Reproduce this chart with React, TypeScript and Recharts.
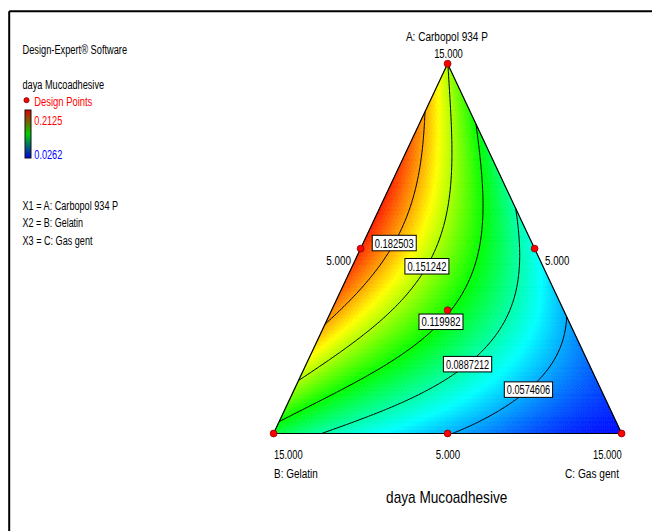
import React from "react";
import { ScatterChart, Scatter, XAxis, YAxis, Customized } from "recharts";

const RESPONSE_NAME = "daya Mucoadhesive";
const COMPONENT_NAMES = ["A: Carbopol 934 P", "B: Gelatin", "C: Gas gent"];
const VERTEX_TICKS = ["15.000", "15.000", "15.000"];
const EDGE_TICKS = ["5.000", "5.000", "5.000"]; // A-B, A-C, B-C edges
const DESIGN_POINTS: number[][] = [
  [1, 0, 0], [0, 1, 0], [0, 0, 1],
  [0.5, 0.5, 0], [0.5, 0, 0.5], [0, 0.5, 0.5],
  [1 / 3, 1 / 3, 1 / 3],
];
const RESPONSE_RANGE = [0.0262, 0.2125];
const CONTOUR_LEVELS = [0.182503, 0.151242, 0.119982, 0.0887212, 0.0574606];

// Scheffe quartic mixture model for the response, terms in the order of `basis` below
const MODEL_COEFS = [
  0.15165, 0.10943, 0.02801,
  0.29621, -0.05317, -0.04104,
  0.0203, -0.03208, -0.01617,
  0.01878, -0.02075, -0.05131,
  0.43632, -0.1929, -0.00604,
];

const W = 652;
const H = 523;
const MARGIN = { top: 55.7, right: 38.4, bottom: 97.5, left: 265.6 };
const PW = W - MARGIN.left - MARGIN.right;
const PH = H - MARGIN.top - MARGIN.bottom;
const FONT = "'Liberation Sans Narrow', 'Liberation Sans', Arial, sans-serif";
const GRID = 96;

const basis = (a: number, b: number, c: number) => [
  a, b, c, a * b, a * c, b * c,
  a * b * (a - b), a * c * (a - c), b * c * (b - c),
  a * b * (a - b) ** 2, a * c * (a - c) ** 2, b * c * (b - c) ** 2,
  a * a * b * c, a * b * b * c, a * b * c * c,
];

const response = (a: number, b: number, c: number) =>
  basis(a, b, c).reduce((s, t, i) => s + t * MODEL_COEFS[i], 0);

// ternary composition -> plot coordinates (apex A at top, B bottom-left, C bottom-right)
const toXY = (a: number, _b: number, c: number) => ({ x: c + a / 2, y: a });

const STOPS = [[0, 0, 255], [0, 255, 255], [0, 255, 0], [255, 255, 0], [255, 0, 0]];
function colorOf(v: number) {
  let t = (v - RESPONSE_RANGE[0]) / (RESPONSE_RANGE[1] - RESPONSE_RANGE[0]);
  t = Math.max(0, Math.min(1, t));
  const s = t * 4;
  const k = Math.min(3, Math.floor(s));
  const u = s - k;
  const c = STOPS[k].map((q, i) => Math.round(q + (STOPS[k + 1][i] - q) * u));
  return `rgb(${c[0]},${c[1]},${c[2]})`;
}

// triangular mesh over the simplex: node (i, j) has A = i/n, C = j/n
function buildMesh(n: number) {
  const vals: number[][] = [];
  for (let i = 0; i <= n; i++) {
    vals.push([]);
    for (let j = 0; j <= n - i; j++) vals[i].push(response(i / n, 1 - i / n - j / n, j / n));
  }
  const tris: number[][][] = [];
  for (let i = 0; i < n; i++) {
    for (let j = 0; j < n - i; j++) {
      tris.push([[i, j], [i, j + 1], [i + 1, j]]);
      if (j < n - i - 1) tris.push([[i, j + 1], [i + 1, j + 1], [i + 1, j]]);
    }
  }
  return { vals, tris };
}

const MESH = buildMesh(GRID);
const gp = (i: number, j: number) => ({ x: j / GRID + i / (2 * GRID), y: i / GRID });

const fieldCells = MESH.tris.map((t) => {
  const ps = t.map(([i, j]) => gp(i, j));
  const cx = (ps[0].x + ps[1].x + ps[2].x) / 3;
  const cy = (ps[0].y + ps[1].y + ps[2].y) / 3;
  const a = cy;
  const c = cx - a / 2;
  return { x: cx, y: cy, off: ps.map((p) => [p.x - cx, p.y - cy]), fill: colorOf(response(a, 1 - a - c, c)) };
});

// marching triangles, then chain the segments into polylines
function contourPaths(level: number) {
  const { vals, tris } = MESH;
  const pts = new Map<string, { x: number; y: number }>();
  const segs: string[][] = [];
  for (const t of tris) {
    const hits: string[] = [];
    for (let e = 0; e < 3; e++) {
      let p = t[e];
      let q = t[(e + 1) % 3];
      if (p[0] > q[0] || (p[0] === q[0] && p[1] > q[1])) [p, q] = [q, p];
      const fp = vals[p[0]][p[1]] - level;
      const fq = vals[q[0]][q[1]] - level;
      if (fp < 0 !== fq < 0) {
        const key = `${p[0]},${p[1]}|${q[0]},${q[1]}`;
        if (!pts.has(key)) {
          const u = fp / (fp - fq);
          const A = gp(p[0], p[1]);
          const B = gp(q[0], q[1]);
          pts.set(key, { x: A.x + (B.x - A.x) * u, y: A.y + (B.y - A.y) * u });
        }
        hits.push(key);
      }
    }
    if (hits.length === 2) segs.push(hits);
  }
  const adj = new Map<string, number[]>();
  segs.forEach((s, k) => s.forEach((key) => adj.set(key, [...(adj.get(key) || []), k])));
  const used = new Array(segs.length).fill(false);
  const lines: { x: number; y: number }[][] = [];
  const walk = (startKey: string) => {
    const line = [pts.get(startKey)!];
    let key = startKey;
    for (;;) {
      const next = (adj.get(key) || []).find((k) => !used[k]);
      if (next === undefined) break;
      used[next] = true;
      key = segs[next][0] === key ? segs[next][1] : segs[next][0];
      line.push(pts.get(key)!);
    }
    if (line.length > 1) lines.push(line);
  };
  for (const [key, list] of adj) if (list.length === 1 && !used[list[0]]) walk(key);
  segs.forEach((s, k) => { if (!used[k]) walk(s[0]); });
  return lines;
}

const CONTOURS = CONTOUR_LEVELS.map((lv) => ({ level: lv, lines: contourPaths(lv) }));

// compositions near which each contour value tag sits (snapped onto its line)
const TAG_SPOTS = [
  [0.515, 0.393, 0.092], [0.457, 0.334, 0.209], [0.307, 0.369, 0.324],
  [0.199, 0.351, 0.45], [0.132, 0.209, 0.659],
];

const contourTags = CONTOURS.map((ct, k) => {
  const target = toXY(TAG_SPOTS[k][0], TAG_SPOTS[k][1], TAG_SPOTS[k][2]);
  let best = { x: target.x, y: target.y };
  let bd = Infinity;
  ct.lines.forEach((ln) => ln.forEach((p) => {
    const d = ((p.x - target.x) * PW) ** 2 + ((p.y - target.y) * PH) ** 2;
    if (d < bd) { bd = d; best = p; }
  }));
  return { x: best.x, y: best.y, text: String(ct.level) };
});

const designData = DESIGN_POINTS.map(([a, b, c]) => toXY(a, b, c));

// text placed around the vertices and edge midpoints: [text, dx, dy, anchor, width]
const TICK_LAYOUT = [
  { at: [1, 0, 0], lines: [[VERTEX_TICKS[0], 0.9, -5.7, "middle", 28.7], [COMPONENT_NAMES[0], -0.7, -22.7, "middle", 82]] },
  { at: [0, 1, 0], lines: [[VERTEX_TICKS[1], 0.4, 25.5, "start", 28.7], [COMPONENT_NAMES[1], 0.4, 44.5, "start", 43.7]] },
  { at: [0, 0, 1], lines: [[VERTEX_TICKS[2], 0.1, 25.5, "end", 28.7], [COMPONENT_NAMES[2], -2.6, 44, "end", 54]] },
  { at: [0.5, 0.5, 0], lines: [[EDGE_TICKS[0], -9.6, 16, "end", 24.7]] },
  { at: [0.5, 0, 0.5], lines: [[EDGE_TICKS[1], 10.5, 16, "start", 24.3]] },
  { at: [0, 0.5, 0.5], lines: [[EDGE_TICKS[2], 0.4, 25.5, "middle", 24.3]] },
];
const tickData = TICK_LAYOUT.map((t) => ({ ...toXY(t.at[0], t.at[1], t.at[2]), lines: t.lines }));

const triangleData = [toXY(1, 0, 0), toXY(0, 0, 1), toXY(0, 1, 0), toXY(1, 0, 0)];

const Nothing = () => <g />;

const CellShape = (props: any) => {
  const { cx, cy, payload } = props;
  const pts = payload.off.map(([dx, dy]: number[]) => `${cx + dx * PW},${cy - dy * PH}`).join(" ");
  return <polygon points={pts} fill={payload.fill} stroke={payload.fill} strokeWidth={0.6} />;
};

const DesignDot = (props: any) => (
  <circle cx={props.cx} cy={props.cy} r={3.4} fill="#ff0000" stroke="#8a0000" strokeWidth={0.8} />
);

const TagShape = (props: any) => {
  const { cx, cy, payload } = props;
  const w = payload.text.length > 8 ? 48.3 : 44;
  return (
    <g>
      <rect x={cx - w / 2} y={cy - 7.75} width={w} height={15.5} fill="#fff" stroke="#000" strokeWidth={1} />
      <text x={cx} y={cy + 4.6} textAnchor="middle" fontSize={12.5} fontFamily={FONT}
        textLength={w - 5} lengthAdjust="spacingAndGlyphs" fill="#000">{payload.text}</text>
    </g>
  );
};

const TickShape = (props: any) => {
  const { cx, cy, payload } = props;
  return (
    <g>
      {payload.lines.map(([txt, dx, dy, anchor, w]: any, k: number) => (
        <text key={k} x={cx + dx} y={cy + dy} textAnchor={anchor} fontSize={12.5} fontFamily={FONT}
          textLength={w} lengthAdjust="spacingAndGlyphs" fill="#000">{txt}</text>
      ))}
    </g>
  );
};

const Label = ({ x, y, w, size = 12, fill = "#000", anchor = "start", children }: any) => (
  <text x={x} y={y} fontSize={size} fontFamily={FONT} fill={fill} textAnchor={anchor}
    textLength={w} lengthAdjust="spacingAndGlyphs">{children}</text>
);

// frame, software note, colour key and factor list
const Panel = () => (
  <g>
    <defs>
      <linearGradient id="legendRamp" x1="0" y1="0" x2="0" y2="1">
        <stop offset="0" stopColor="#e00000" />
        <stop offset="0.5" stopColor="#00d000" />
        <stop offset="1" stopColor="#0000e0" />
      </linearGradient>
    </defs>
    <line x1={1.2} y1={3.3} x2={W} y2={3.3} stroke="#000" strokeWidth={2} />
    <line x1={1.2} y1={3.3} x2={1.2} y2={H} stroke="#000" strokeWidth={2} />
    <Label x={14.5} y={46} w={104.6}>Design-Expert® Software</Label>
    <Label x={14.5} y={81} w={81.6}>{RESPONSE_NAME}</Label>
    <circle cx={18.5} cy={92.2} r={2.6} fill="#ff0000" stroke="#700" strokeWidth={0.7} />
    <Label x={26.3} y={97.5} w={58} size={12.5} fill="#ff0000">Design Points</Label>
    <rect x={17} y={102} width={6} height={48} fill="url(#legendRamp)" stroke="#111" strokeWidth={1} />
    <Label x={26.3} y={116.5} w={28} size={13} fill="#ff0000">{RESPONSE_RANGE[1].toFixed(4)}</Label>
    <Label x={26.3} y={151} w={28} size={13} fill="#0000ff">{RESPONSE_RANGE[0].toFixed(4)}</Label>
    <Label x={14.5} y={201.5} w={95.6}>{`X1 = ${COMPONENT_NAMES[0]}`}</Label>
    <Label x={14.5} y={219} w={60.6}>{`X2 = ${COMPONENT_NAMES[1]}`}</Label>
    <Label x={14.5} y={236.5} w={70}>{`X3 = ${COMPONENT_NAMES[2]}`}</Label>
    <Label x={438.7} y={495.3} w={121.3} size={17} anchor="middle">{RESPONSE_NAME}</Label>
  </g>
);

export default function App() {
  return (
    <ScatterChart width={W} height={H} margin={MARGIN}>
      <XAxis type="number" dataKey="x" domain={[0, 1]} hide />
      <YAxis type="number" dataKey="y" domain={[0, 1]} hide />
      <Customized component={<Panel />} />
      <Scatter data={fieldCells} shape={CellShape} isAnimationActive={false} />
      {CONTOURS.flatMap((ct, k) =>
        ct.lines.map((ln, m) => (
          <Scatter key={`c${k}-${m}`} data={ln} line={{ stroke: "#000", strokeWidth: 1 }} lineType="joint"
            shape={Nothing} isAnimationActive={false} />
        ))
      )}
      <Scatter data={triangleData} line={{ stroke: "#000", strokeWidth: 1.2 }} lineType="joint"
        shape={Nothing} isAnimationActive={false} />
      <Scatter data={contourTags} shape={TagShape} isAnimationActive={false} />
      <Scatter data={designData} shape={DesignDot} isAnimationActive={false} />
      <Scatter data={tickData} shape={TickShape} isAnimationActive={false} />
    </ScatterChart>
  );
}
